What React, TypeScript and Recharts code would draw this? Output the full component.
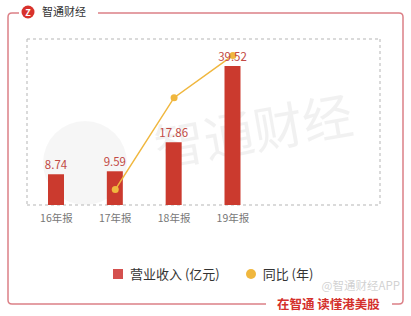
import React from 'react';
import { ComposedChart, Bar, Line, XAxis, YAxis, CartesianGrid, LabelList, Legend } from 'recharts';

const categories = ['16年报', '17年报', '18年报', '19年报', '', ''];
const revenue = [8.74, 9.59, 17.86, 39.52, null, null];
const yoy = [null, 9.7, 86.2, 121.3, null, null];

const data = categories.map((c, i) => ({ name: c, revenue: revenue[i], yoy: yoy[i] }));

const FONT = '"Noto Sans CJK SC", "Noto Sans", sans-serif';
const BAR = '#cb3a2e';
const LINE = '#f0b73e';
const FRAME = '#dc8087';

const LegendContent = () => (
  <div style={{ position: 'absolute', left: 113, top: 0, display: 'flex', alignItems: 'center', fontFamily: FONT, fontSize: 13, color: '#333', whiteSpace: 'nowrap' }}>
    <span style={{ width: 10, height: 10, background: '#d4504e', display: 'inline-block', marginRight: 7 }} />
    <span>营业收入 (亿元)</span>
    <span style={{ width: 10, height: 10, borderRadius: 5, background: LINE, display: 'inline-block', marginLeft: 26, marginRight: 7 }} />
    <span>同比 (年)</span>
  </div>
);

export default function App() {
  return (
    <div style={{ position: 'absolute', left: 0, top: 0, width: 411, height: 316, background: '#fff', fontFamily: FONT }}>
      <svg width={411} height={316} style={{ position: 'absolute', left: 0, top: 0 }}>
        {/* frame */}
        <path d={`M 19 13 L 12 13 Q 8 13 8 17 L 8 300 Q 8 304 12 304 L 266 304`} fill="none" stroke={FRAME} strokeWidth={1.5} />
        <path d={`M 98 13 L 399 13 Q 403 13 403 17 L 403 300 Q 403 304 399 304 L 392 304`} fill="none" stroke={FRAME} strokeWidth={1.5} />
        {/* logo */}
        <circle cx={28} cy={12} r={6.5} fill="#d8322c" />
        <text x={28} y={15.5} textAnchor="middle" fontSize={9} fontWeight={700} fill="#fff" fontFamily={FONT}>Z</text>
        <text x={42} y={16} fontSize={11} fill="#333" fontFamily={FONT}>智通财经</text>
        {/* watermark */}
        <circle cx={85} cy={163} r={42} fill="#000" opacity={0.035} />
        <text x={255} y={150} textAnchor="middle" fontSize={50} fill="#000" opacity={0.05} fontFamily={FONT} transform="rotate(-10 255 140)">智通财经</text>
        <text x={400} y={290} textAnchor="end" fontSize={11.5} fill="#000" opacity={0.18} fontFamily={FONT}>@智通财经APP</text>
        <text x={277} y={309} fontSize={12.5} fontWeight={700} fill="#d4302b" fontFamily={FONT}>在智通 读懂港美股</text>
      </svg>
      <div style={{ position: 'absolute', left: 0, top: 0 }}>
        <ComposedChart width={411} height={316} data={data} margin={{ top: 39, right: 31, left: 27, bottom: 61 }}>
          <CartesianGrid
            stroke="#b5b5b5"
            strokeDasharray="3 3"
            horizontalCoordinatesGenerator={({ offset }: any) => [offset.top, offset.top + offset.height]}
            verticalCoordinatesGenerator={({ offset }: any) => [offset.left, offset.left + offset.width]}
          />
          <XAxis dataKey="name" axisLine={false} tickLine={false} height={30} interval={0}
            tick={{ fill: '#777', fontSize: 10.5, fontFamily: FONT }} tickMargin={4} />
          <YAxis yAxisId="left" hide domain={[0, 47.2]} />
          <YAxis yAxisId="right" hide orientation="right" domain={[-3.1, 135]} />
          <Legend content={<LegendContent />} wrapperStyle={{ position: 'absolute', left: 0, top: 264, width: 411, height: 20 }} />
          <Bar yAxisId="left" dataKey="revenue" fill={BAR} barSize={16} isAnimationActive={false} legendType="square">
            <LabelList dataKey="revenue" position="top" offset={5} fill="#c24a45" fontSize={11.5} fontFamily={FONT} />
          </Bar>
          <Line yAxisId="right" dataKey="yoy" stroke={LINE} strokeWidth={1.5} isAnimationActive={false}
            dot={{ r: 3.5, fill: LINE, stroke: LINE, strokeWidth: 0 }} activeDot={false} />
        </ComposedChart>
      </div>
    </div>
  );
}
